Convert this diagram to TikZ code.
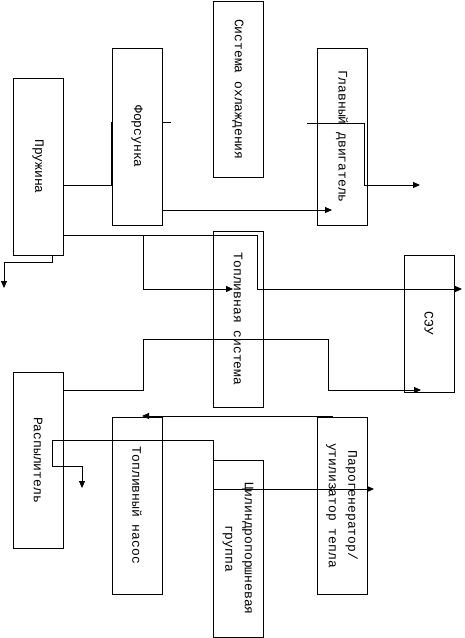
\documentclass[tikz,border=0pt]{standalone}
\usepackage{fontspec}
\newfontfamily\cour{Liberation Mono}
\usetikzlibrary{arrows.meta}
\tikzset{
  box/.style={draw=black, fill=white, line width=0.9pt, inner sep=0pt, outer sep=0pt},
  lbl/.style={rotate=-90, inner sep=0pt, align=center, font=\cour\fontsize{13}{19.5}\selectfont},
  con/.style={draw=black, line width=0.9pt},
  arr/.style={con, -{Triangle[length=7pt,width=6pt]}}
}
\newcommand{\bx}[6]{%
  \node[box, minimum width=#4pt-#2pt, minimum height=#5pt-#3pt] (#1) at ({(#2+#4)/2},{(#3+#5)/2}) {};
  \node[lbl] (#1t) at (#1.center) {#6};
}
\begin{document}
\begin{tikzpicture}[x=1pt,y=-1pt]
\useasboundingbox (0,0) rectangle (464,638);
% connector hidden behind the injector box
\coordinate (c1end) at (171,122);
\path[con] (13+50,185) -- (111,185) -- (111,122) -- (c1end);
% boxes
\bx{pr}{13}{78}{63}{255}{Пружина}
\bx{fo}{112}{48}{162}{225}{Форсунка}
\bx{so}{213}{1.5}{263}{177}{Система охлаждения}
\bx{gd}{317}{48}{367}{225}{Главный двигатель}
\bx{ts}{213}{231}{263}{407}{Топливная система}
\bx{seu}{404}{255}{454}{392}{СЭУ}
\bx{ra}{13}{372}{63}{548}{Распылитель}
\bx{tn}{112}{417}{162}{594}{Топливный насос}
\bx{cpg}{213}{460}{263}{637}{Цилиндропоршневая\\группа}
\bx{pg}{317}{417}{367}{594}{Парогенератор/\\утилизатор тепла}
% free ends
\coordinate (c3s) at (307,123);
\coordinate (c3e) at (420,185);
\coordinate (c4e) at (462,289);
\coordinate (c5e) at (233,289);
\coordinate (c6e) at (4,288);
\coordinate (c7e) at (421,390);
\coordinate (c8e) at (142,416);
\coordinate (c8s) at (333,416);
\coordinate (c9e) at (374,489);
\coordinate (c10e) at (82,488);
\coordinate (ras) at (52,466);
\coordinate (gde) at (332,210);
% connectors
\draw[arr] (fo.east |- 0,210) -- (gde);
\draw[arr] (c3s) -- (364,123) -- (364,185) -- (c3e);
\draw[arr] (pr.east |- 0,235) -- (257,235) -- (257,289) -- (c4e);
\draw[arr] (143,235) -- (143,289) -- (c5e);
\draw[arr] (pr.south -| 52,0) -- (52,262) -- (4,262) -- (c6e);
\draw[arr] (ra.east |- 0,390) -- (143,390) -- (143,339) -- (328,339) -- (328,390) -- (c7e);
\draw[arr] (c8s) -- (c8e);
\draw[arr] (ras) -- (52,440) -- (213,440) -- (213,489) -- (c9e);
\draw[arr] (ras) -- (82,466) -- (c10e);
\end{tikzpicture}
\end{document}
